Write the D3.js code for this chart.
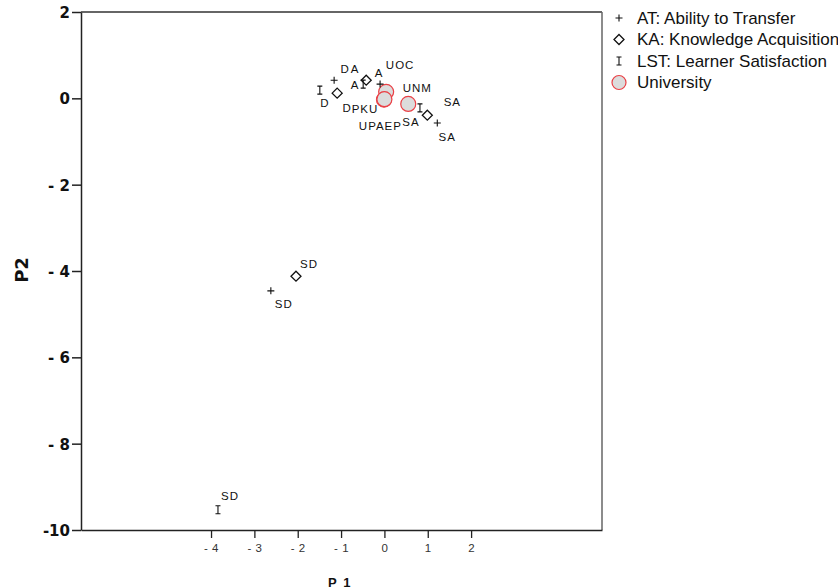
<!DOCTYPE html>
<html>
<head>
<meta charset="utf-8">
<script src="https://cdn.jsdelivr.net/npm/d3@7"></script>
<style>
  html, body { margin: 0; padding: 0; background: #fff; }
  svg { display: block; }
</style>
</head>
<body>
<svg id="chart" width="838" height="588"></svg>
<script>
// Category points per variable (dimension 1 = P1, dimension 2 = P2)
const categories = ["D", "A", "SA", "SD"];
const atP1  = [-1.16, -0.10, 1.22, -2.62];
const atP2  = [ 0.42,  0.33, -0.57, -4.46];
const kaP1  = [-1.09, -0.42, 0.99, -2.04];
const kaP2  = [ 0.12,  0.42, -0.39, -4.12];
const lstP1 = [-1.49, -0.49, 0.82, -3.84];
const lstP2 = [ 0.19,  0.33, -0.22, -9.53];

// Object points
const universities = ["UOC", "PKU", "UPAEP", "UNM"];
const uniP1 = [0.04, -0.01, 0.00, 0.55];
const uniP2 = [0.15, -0.03, -0.02, -0.13];

const xTicks = [-4, -3, -2, -1, 0, 1, 2];
const yTicks = [-10, -8, -6, -4, -2, 0, 2];
const legendLabels = ["AT: Ability to Transfer", "KA: Knowledge Acquisitions", "LST: Learner Satisfaction", "University"];

// label offsets (px) from each point, keyed by series and category
const labelOffset = {
  AT:  { D: [11, -11], A: [-1, -11], SA: [10, 14], SD: [13, 13] },
  KA:  { D: [10, 15], A: [-11, -11], SA: [25, -13], SD: [13, -12] },
  LST: { D: [5, 13], A: [-8, 1], SA: [-9, 14], SD: [12, -14] },
  UNI: { UOC: [14, -27], PKU: [-19, 9], UPAEP: [-4, 27], UNM: [9, -16] }
};

const svg = d3.select("#chart");
const x = d3.scaleLinear().domain([-7, 5.02]).range([81, 602]);
const y = d3.scaleLinear().domain([-10, 2]).range([530, 12]);

const fmt = d => d < 0 ? (Math.abs(d) >= 10 ? "-" + Math.abs(d) : "- " + Math.abs(d)) : String(d);

// frame: top and right edges
svg.append("line").attr("x1", x(-7)).attr("x2", x(5.02)).attr("y1", y(2)).attr("y2", y(2))
  .attr("stroke", "#333").attr("stroke-width", 1.3);
svg.append("line").attr("x1", x(5.02)).attr("x2", x(5.02)).attr("y1", y(2)).attr("y2", y(-10))
  .attr("stroke", "#666").attr("stroke-width", 1.5);

// y axis
const gy = svg.append("g").attr("transform", `translate(${x(-7)},0)`)
  .call(d3.axisLeft(y).tickValues(yTicks).tickFormat(fmt).tickSize(9).tickSizeOuter(0).tickPadding(2));
gy.select(".domain").attr("stroke", "#222").attr("stroke-width", 1.5);
gy.selectAll(".tick line").attr("stroke", "#222").attr("stroke-width", 1.5);
gy.selectAll(".tick text").attr("font-family", "DejaVu Sans, sans-serif")
  .attr("font-weight", "bold").attr("font-size", 15).attr("fill", "#111").attr("dy", "0.36em");

// x axis
const gx = svg.append("g").attr("transform", `translate(0,${y(-10)})`)
  .call(d3.axisBottom(x).tickValues(xTicks).tickFormat(fmt).tickSize(8).tickSizeOuter(0).tickPadding(6));
gx.select(".domain").attr("stroke", "#222").attr("stroke-width", 1.5);
gx.selectAll(".tick line").attr("stroke", "#222").attr("stroke-width", 1.3);
gx.selectAll(".tick text").attr("font-family", "Liberation Sans, Arial, sans-serif")
  .attr("font-size", 11.5).attr("fill", "#333").attr("xml:space", "preserve")
  .attr("letter-spacing", 0.5);

// axis titles
svg.append("text").attr("transform", "translate(28,270) rotate(-90)")
  .attr("text-anchor", "middle").attr("font-family", "DejaVu Sans, sans-serif")
  .attr("font-weight", "bold").attr("font-size", 18).attr("fill", "#111").text("P2");
svg.append("text").attr("x", 340).attr("y", 587)
  .attr("text-anchor", "middle").attr("font-family", "Liberation Sans, Arial, sans-serif")
  .attr("font-weight", "bold").attr("font-size", 13).attr("letter-spacing", 1.5)
  .attr("fill", "#111").text("P 1");

// marker shapes
const markerPath = {
  AT: "M-3.5,0H3.5M0,-3.5V3.5",
  KA: "M0,-5L5,0L0,5L-5,0Z",
  LST: "M-2.5,-4H2.5M0,-4V4M-2.5,4H2.5"
};

function drawSeries(key, p1, p2) {
  const data = categories.map((c, i) => ({ c, x: p1[i], y: p2[i] }));
  const g = svg.append("g");
  g.selectAll("path").data(data).join("path")
    .attr("transform", d => `translate(${x(d.x)},${y(d.y)})`)
    .attr("d", markerPath[key])
    .attr("fill", key === "KA" ? "#fff" : "none")
    .attr("stroke", "#111").attr("stroke-width", key === "KA" ? 1.3 : 1.1);
  g.selectAll("text").data(data).join("text")
    .attr("x", d => x(d.x) + labelOffset[key][d.c][0])
    .attr("y", d => y(d.y) + labelOffset[key][d.c][1])
    .attr("dy", "0.35em").attr("text-anchor", "middle")
    .attr("font-family", "Liberation Sans, Arial, sans-serif").attr("font-size", 11.5)
    .attr("letter-spacing", 1).attr("fill", "#111").text(d => d.c);
}

// university circles first, category markers on top
const uni = universities.map((u, i) => ({ u, x: uniP1[i], y: uniP2[i] }));
svg.append("g").selectAll("circle").data(uni).join("circle")
  .attr("cx", d => x(d.x)).attr("cy", d => y(d.y)).attr("r", 7.5)
  .attr("fill", "#dcdcdc").attr("stroke", "#ea4046").attr("stroke-width", 1.2);
svg.append("g").selectAll("text").data(uni).join("text")
  .attr("x", d => x(d.x) + labelOffset.UNI[d.u][0])
  .attr("y", d => y(d.y) + labelOffset.UNI[d.u][1])
  .attr("dy", "0.35em").attr("text-anchor", "middle")
  .attr("font-family", "Liberation Sans, Arial, sans-serif").attr("font-size", 11.5)
  .attr("letter-spacing", 1).attr("fill", "#111").text(d => d.u);

drawSeries("AT", atP1, atP2);
drawSeries("KA", kaP1, kaP2);
drawSeries("LST", lstP1, lstP2);

// legend
const legend = svg.append("g").attr("transform", "translate(619,18)");
const keys = ["AT", "KA", "LST", "UNI"];
keys.forEach((k, i) => {
  const row = legend.append("g").attr("transform", `translate(0,${i * 21.5})`);
  if (k === "UNI") {
    row.append("circle").attr("r", 7).attr("fill", "#dcdcdc")
      .attr("stroke", "#ea4046").attr("stroke-width", 1.2);
  } else {
    row.append("path").attr("d", markerPath[k])
      .attr("fill", k === "KA" ? "#fff" : "none")
      .attr("stroke", "#111").attr("stroke-width", k === "KA" ? 1.3 : 1.1);
  }
  row.append("text").attr("x", 18).attr("dy", "0.35em")
    .attr("font-family", "Liberation Sans, Arial, sans-serif").attr("font-size", 17)
    .attr("fill", "#111").text(legendLabels[i]);
});
</script>
</body>
</html>
